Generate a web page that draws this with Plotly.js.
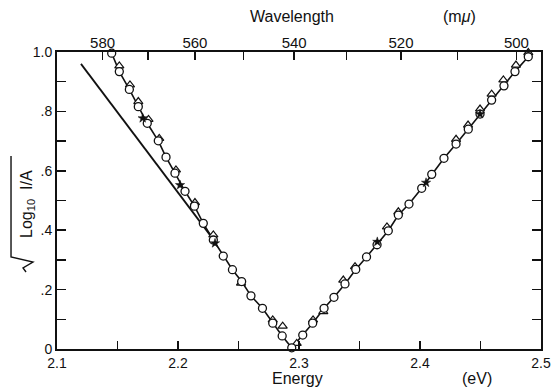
<!DOCTYPE html>
<html>
<head>
<meta charset="utf-8">
<script src="https://cdn.plot.ly/plotly-3.0.1.min.js"></script>
<style>html,body{margin:0;padding:0;background:#fff}</style>
</head>
<body>
<div id="chart" style="width:552px;height:387px"></div>
<script>
// Circles (fit line passes through them)
const circleE = [2.1452,2.1515,2.1598,2.1672,2.1746,2.1837,2.1901,2.1975,2.2058,2.2136,2.2209,2.2292,2.2374,2.2450,2.2526,2.2603,2.2698,2.2783,2.2861,2.2940,
                 2.3031,2.3113,2.3207,2.3289,2.3380,2.3469,2.3558,2.3645,2.3738,2.3821,2.3909,2.4014,2.4097,2.4198,2.4298,2.4399,2.4496,2.4592,2.4694,2.4785,2.4895];
const circleY = [0.996,0.934,0.874,0.816,0.760,0.701,0.646,0.592,0.531,0.481,0.423,0.367,0.313,0.267,0.227,0.179,0.137,0.087,0.044,0.004,
                 0.047,0.087,0.137,0.174,0.219,0.268,0.310,0.351,0.398,0.451,0.488,0.541,0.588,0.642,0.690,0.740,0.791,0.838,0.886,0.934,0.984];
// Triangles
const triE = [2.1515,2.1603,2.1672,2.1756,2.1845,2.1983,2.2140,2.2292,2.2521,2.2783,2.2865,
              2.2981,2.3116,2.3201,2.3366,2.3463,2.3727,2.3821,2.4298,2.4397,2.4496,2.4592,2.4689,2.4793,2.4895];
const triY = [0.953,0.889,0.833,0.773,0.709,0.603,0.493,0.384,0.222,0.098,0.077,
              0.019,0.098,0.126,0.232,0.277,0.411,0.462,0.706,0.754,0.808,0.858,0.906,0.956,0.998];
// Filled stars
const starE = [2.1708,2.2017,2.2306,2.3647,2.4050,2.4496];
const starY = [0.777,0.552,0.356,0.361,0.560,0.791];
// Separate straight line on the left
const lineE = [2.1198,2.2320];
const lineY = [0.960,0.354];
// Axis ticks
const yTickVals = [0,0.1,0.2,0.3,0.4,0.5,0.6,0.7,0.8,0.9,1.0];
const yTickText = ['0','','.2','','.4','','.6','','.8','','1.0'];
const xTickVals = [2.1,2.15,2.2,2.25,2.3,2.35,2.4,2.45,2.5];
const xTickText = ['2.1','','2.2','','2.3','','2.4','','2.5'];
const wavelengths = [580,570,560,550,540,530,520,510,500];
const wavelengthText = ['580','','560','','540','','520','','500'];
const hc = 1239.84; // eV·nm

const font = {family:'Liberation Sans, Arial, sans-serif', color:'#111', size:14};
const topfont = {...font, size:15};

const traces = [
  {x:lineE, y:lineY, mode:'lines', line:{color:'#111', width:1.8}, hoverinfo:'skip'},
  {x:circleE, y:circleY, mode:'lines', line:{color:'#111', width:1.6}, hoverinfo:'skip'},
  {x:triE, y:triY, mode:'markers', marker:{symbol:'triangle-up', size:8, color:'#fff', line:{color:'#111', width:1.2}}, cliponaxis:false},
  {x:circleE, y:circleY, mode:'markers', marker:{symbol:'circle', size:8, color:'#fff', line:{color:'#111', width:1.3}}, cliponaxis:false},
  {x:starE, y:starY, mode:'markers', marker:{symbol:'star', size:7, color:'#111', line:{color:'#111', width:0.5}}, cliponaxis:false},
  {x:[2.3], y:[0.5], xaxis:'x2', mode:'markers', marker:{opacity:0}, hoverinfo:'skip'}
];

// pixel -> paper helpers (plot area: x 57..541, y 52..349)
const PX = p => (p-57)/484;
const PY = p => (349-p)/297;
const radical = [[26,272],[23,268],[33,262],[11,257],[11,156]];
const radicalPath = 'M' + radical.map(p => PX(p[0]).toFixed(4)+','+PY(p[1]).toFixed(4)).join(' L');

const layout = {
  width:552, height:387,
  margin:{l:57, r:11, t:52, b:38},
  paper_bgcolor:'#fff', plot_bgcolor:'#fff',
  showlegend:false,
  font:font,
  xaxis:{range:[2.1,2.5], tickvals:xTickVals, ticktext:xTickText, ticks:'inside', ticklen:8, tickwidth:1.5, tickcolor:'#111',
         showline:true, linecolor:'#111', linewidth:2, mirror:true, showgrid:false, zeroline:false, tickfont:font},
  xaxis2:{range:[2.1,2.5], overlaying:'x', side:'top', tickvals:wavelengths.map(w=>hc/w), ticktext:wavelengthText,
          ticks:'inside', ticklen:8, tickwidth:1.5, tickcolor:'#111', showline:false, showgrid:false, zeroline:false, tickfont:topfont},
  yaxis:{range:[0,1.0], tickvals:yTickVals, ticktext:yTickText, ticks:'inside', ticklen:9, tickwidth:1.5, tickcolor:'#111',
         showline:true, linecolor:'#111', linewidth:2, mirror:'ticks', showgrid:false, zeroline:false, tickfont:font},
  shapes:[
    {type:'path', xref:'paper', yref:'paper', path:radicalPath, line:{color:'#111', width:1.4}}
  ],
  annotations:[
    {text:'Wavelength', xref:'paper', yref:'paper', x:PX(292), y:PY(17), showarrow:false, font:{...font, size:16}, xanchor:'center', yanchor:'middle'},
    {text:'(m<i>μ</i>)', xref:'paper', yref:'paper', x:PX(459), y:PY(17), showarrow:false, font:{...font, size:16}, xanchor:'center', yanchor:'middle'},
    {text:'Energy', xref:'paper', yref:'paper', x:PX(297), y:PY(378), showarrow:false, font:{...font, size:16}, xanchor:'center', yanchor:'middle'},
    {text:'(eV)', xref:'paper', yref:'paper', x:PX(477), y:PY(378), showarrow:false, font:{...font, size:16}, xanchor:'center', yanchor:'middle'},
    {text:'Log<sub>10</sub>  I/A', xref:'paper', yref:'paper', x:PX(27), y:PY(204),
     showarrow:false, textangle:-90, font:{...font, size:16}, xanchor:'center', yanchor:'middle'}
  ]
};

Plotly.newPlot('chart', traces, layout, {staticPlot:true, displayModeBar:false});
</script>
</body>
</html>
